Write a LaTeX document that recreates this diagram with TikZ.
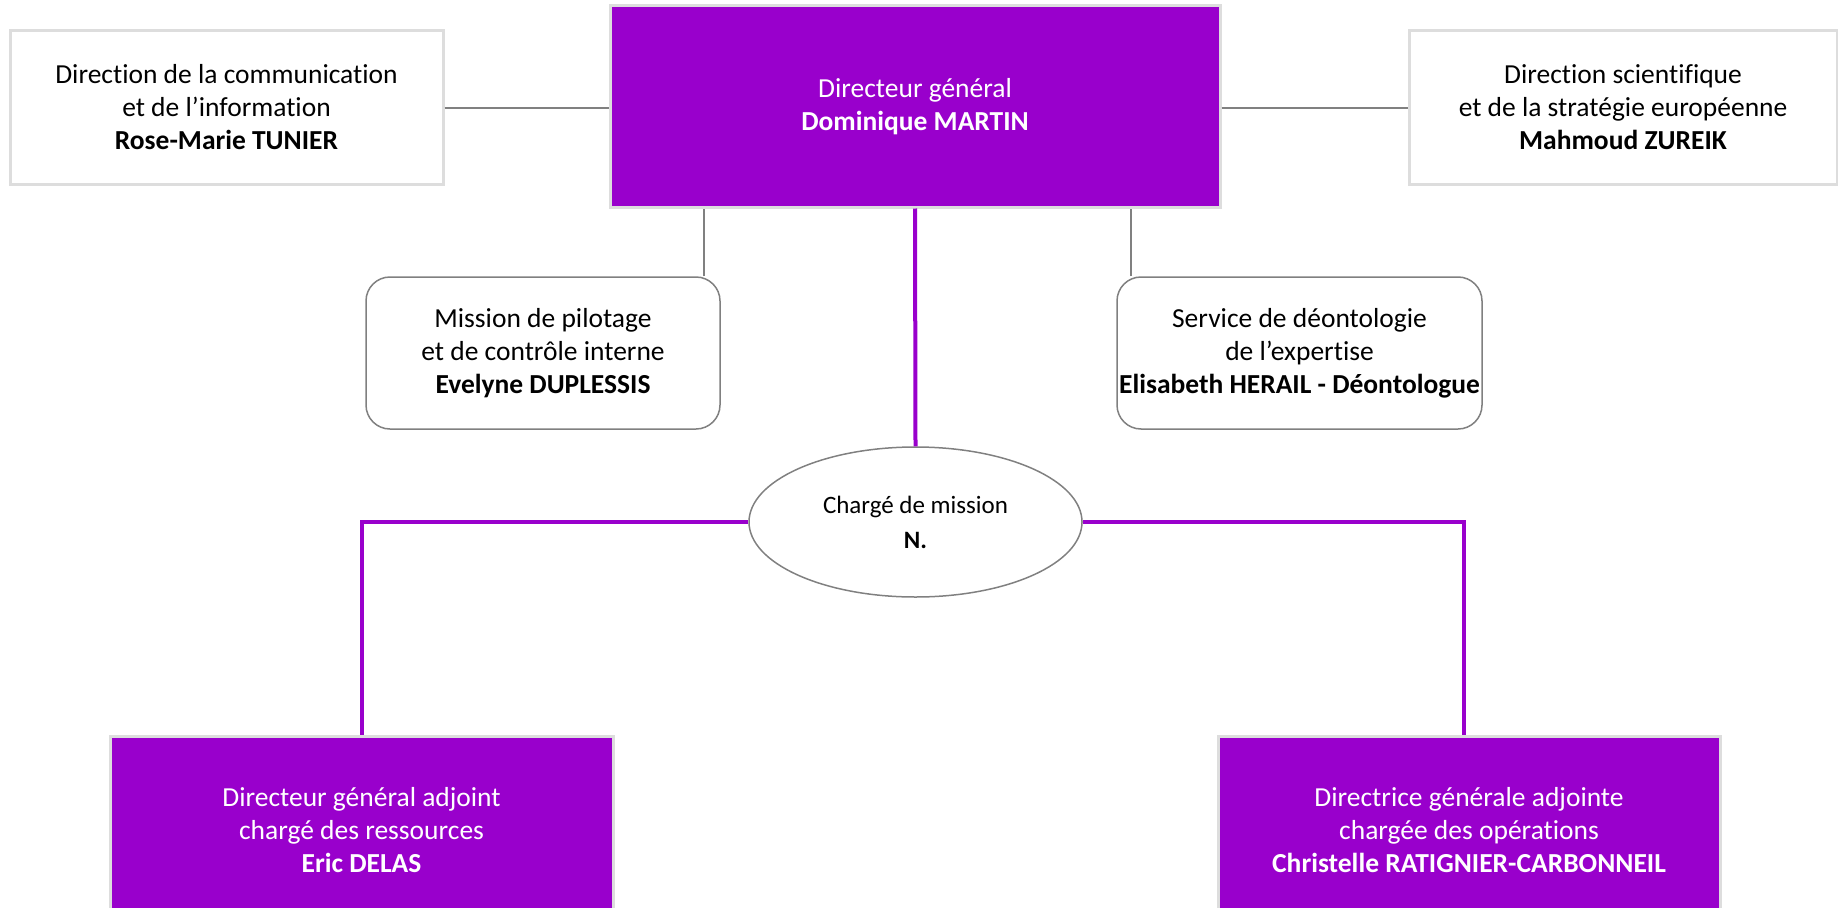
\documentclass[tikz,border=0pt]{standalone}
\usepackage{fontspec}
\setmainfont{Carlito}[Ligatures=CommonOff]
\usetikzlibrary{shapes.geometric}

\definecolor{orgpurple}{HTML}{9900CC}
\definecolor{framegray}{HTML}{DDDDDD}
\definecolor{linkgray}{HTML}{808080}

\tikzset{
  every node/.style={align=center, inner sep=0pt, font=\fontsize{27.5}{33}\selectfont},
  headbox/.style={draw=framegray, line width=3pt, fill=orgpurple, text=white},
  sidebox/.style={draw=framegray, line width=3pt, fill=white},
  staffbox/.style={draw=linkgray, line width=1.5pt, rounded corners=24pt, fill=white},
  graylink/.style={draw=linkgray, line width=2pt},
  purplelink/.style={draw=orgpurple, line width=4pt}
}

\begin{document}
\begin{tikzpicture}[x=1pt, y=-1pt]
  \useasboundingbox (0,0) rectangle (1838,907);

  \node[headbox, minimum width=610pt, minimum height=201pt] (dg) at (915,106.5)
    {Directeur général\\\textbf{Dominique MARTIN}};
  \node[sidebox, minimum width=433pt, minimum height=153pt] (com) at (226.5,107.5)
    {Direction de la communication\\et de l’information\\\textbf{Rose-Marie TUNIER}};
  \node[sidebox, minimum width=428pt, minimum height=153pt] (sci) at (1623,107.5)
    {Direction scientifique\\et de la stratégie européenne\\\textbf{Mahmoud ZUREIK}};
  \node[staffbox, minimum width=354pt, minimum height=152pt] (pilot) at (543,353)
    {Mission de pilotage\\et de contrôle interne\\\textbf{Evelyne DUPLESSIS}};
  \node[staffbox, minimum width=365pt, minimum height=152pt] (deonto) at (1299.5,353)
    {Service de déontologie\\de l’expertise\\\textbf{Elisabeth HERAIL - Déontologue}};
  \node[draw=linkgray, line width=1.5pt, ellipse, minimum width=333pt, minimum height=150pt,
    font=\fontsize{25}{35}\selectfont] (cm) at (915.5,522)
    {Chargé de mission\\\textbf{N.}};
  \node[headbox, minimum width=503pt, minimum height=188pt] (dgar) at (361.5,830)
    {Directeur général adjoint\\chargé des ressources\\\textbf{Eric DELAS}};
  \node[headbox, minimum width=502pt, minimum height=188pt] (dgao) at (1469,830)
    {Directrice générale adjointe\\chargée des opérations\\\textbf{Christelle RATIGNIER-CARBONNEIL}};

  % liaisons
  \draw[graylink] (com.east) -- (com.east -| dg.west);
  \draw[graylink] (dg.east |- sci.west) -- (sci.west);
  \draw[graylink] ([xshift=-16.5pt]pilot.north east) -- ([xshift=-16.5pt]pilot.north east |- dg.south);
  \draw[graylink] ([xshift=15pt]deonto.north west) -- ([xshift=15pt]deonto.north west |- dg.south);
  \draw[purplelink] (dg.south) -- (cm.north);
  \draw[purplelink] (cm.west) -| (dgar.north);
  \draw[purplelink] (cm.east) -| ([xshift=-5pt]dgao.north);
\end{tikzpicture}
\end{document}
